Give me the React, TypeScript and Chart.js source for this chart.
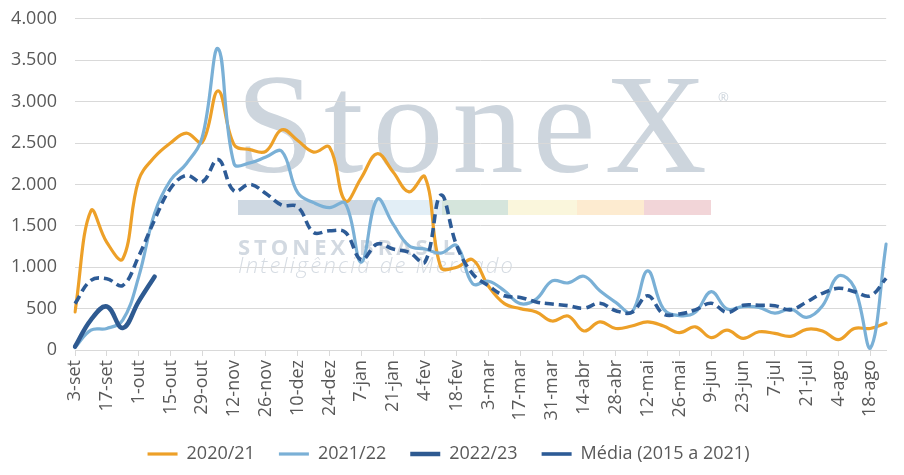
import { useEffect, useRef } from "react";
import { Chart, registerables } from "chart.js";

Chart.register(...registerables);

const weeks = [
  "3-set", "10-set", "17-set", "24-set",
  "1-out", "8-out", "15-out", "22-out", "29-out",
  "5-nov", "12-nov", "19-nov", "26-nov",
  "3-dez", "10-dez", "17-dez", "24-dez", "31-dez",
  "7-jan", "14-jan", "21-jan", "28-jan",
  "4-fev", "11-fev", "18-fev", "25-fev",
  "3-mar", "10-mar", "17-mar", "24-mar", "31-mar",
  "7-abr", "14-abr", "21-abr", "28-abr",
  "5-mai", "12-mai", "19-mai", "26-mai",
  "2-jun", "9-jun", "16-jun", "23-jun", "30-jun",
  "7-jul", "14-jul", "21-jul", "28-jul",
  "4-ago", "11-ago", "18-ago", "25-ago",
];

const s2020_21 = [
  460, 1680, 1300, 1100, 2050, 2330, 2500, 2620, 2510, 3130,
  2480, 2420, 2400, 2660, 2530, 2390, 2450, 1800, 2080, 2370,
  2150, 1910, 2090, 1000, 1000, 1090, 770, 560, 500, 460,
  350, 410, 230, 340, 260, 290, 340, 290, 210, 280,
  150, 240, 140, 220, 200, 165, 250, 230, 125, 260,
  260, 325,
];

const s2021_22 = [
  30, 240, 260, 360, 880, 1650, 2050, 2250, 2570, 3640,
  2250, 2260, 2330, 2400, 1900, 1780, 1720, 1770, 1060, 1820,
  1520, 1260, 1220, 1170, 1260, 800, 830, 715, 560, 615,
  835, 810, 890, 715, 575, 455, 955, 495, 415, 455,
  705, 495, 525, 515, 445, 495, 395, 535, 895, 755,
  20, 1280,
];

const s2022_23 = [40, 365, 525, 265, 585, 885];

const media2015_2021 = [
  560, 840, 860, 780, 1130, 1570, 1950, 2110, 2030, 2300,
  1920, 2000, 1890, 1750, 1730, 1420, 1440, 1420, 1090, 1280,
  1220, 1180, 1060, 1870, 1260, 920, 775, 655, 635, 580,
  555, 535, 505, 565, 475, 455, 655, 435, 435, 485,
  565, 455, 540, 540, 535, 485, 580, 685, 745, 705,
  655, 865,
];

const seriesNames = ["2020/21", "2021/22", "2022/23", "Média (2015 a 2021)"];

const FONT = "'Open Sans', 'Noto Sans', sans-serif";
const TEXT = "#595959";
const GRID = "#d9d9d9";

function fmt(v: number) {
  const s = Math.round(v).toString();
  return s.replace(/\B(?=(\d{3})+(?!\d))/g, ".");
}

const watermark = {
  id: "watermark",
  beforeDraw(chart: any) {
    const ctx = chart.ctx as CanvasRenderingContext2D;
    ctx.save();
    const bandY = 192;
    const bandH = 15;
    const segs: [number, number, string][] = [
      [230, 365, "#ced8e2"],
      [365, 434, "#e2eef6"],
      [434, 500, "#d5e5dc"],
      [500, 569, "#faf6dc"],
      [569, 636, "#fdebd0"],
      [636, 703, "#f2d5d8"],
    ];
    segs.forEach(([a, b, c]) => {
      ctx.fillStyle = c;
      ctx.fillRect(a, bandY, b - a, bandH);
    });
    ctx.fillStyle = "#cdd5dd";
    ctx.textBaseline = "alphabetic";
    ctx.textAlign = "left";
    ctx.font = "142px 'Liberation Serif', serif";
    (ctx as any).letterSpacing = "9px";
    ctx.fillText("StoneX", 228, 164);
    (ctx as any).letterSpacing = "0px";
    ctx.font = "13px " + FONT;
    ctx.fillText("®", 710, 94);
    ctx.fillStyle = "#d2d9e1";
    ctx.font = "bold 22px " + FONT;
    (ctx as any).letterSpacing = "4px";
    ctx.fillText("STONEX BRASIL", 230, 247);
    ctx.fillStyle = "#d6dce3";
    ctx.font = "italic 300 22px " + FONT;
    (ctx as any).letterSpacing = "2.2px";
    ctx.fillText("Inteligência de Mercado", 230, 265);
    ctx.restore();
  },
};

export default function App() {
  const ref = useRef<HTMLCanvasElement | null>(null);

  useEffect(() => {
    if (!ref.current) return;
    const chart = new Chart(ref.current, {
      type: "line",
      data: {
        labels: weeks,
        datasets: [
          {
            label: seriesNames[0],
            data: s2020_21,
            borderColor: "#eda028",
            backgroundColor: "#eda028",
            borderWidth: 3.2,
            borderCapStyle: "round",
            order: 4,
          },
          {
            label: seriesNames[1],
            data: s2021_22,
            borderColor: "#7ab0d6",
            backgroundColor: "#7ab0d6",
            borderWidth: 3.2,
            borderCapStyle: "round",
            order: 3,
          },
          {
            label: seriesNames[2],
            data: s2022_23,
            borderColor: "#2e5a91",
            backgroundColor: "#2e5a91",
            borderWidth: 4.5,
            borderCapStyle: "round",
            order: 2,
          },
          {
            label: seriesNames[3],
            data: media2015_2021,
            borderColor: "#2d5b96",
            backgroundColor: "#2d5b96",
            borderWidth: 3.6,
            borderDash: [9, 5],
            borderCapStyle: "butt",
            order: 1,
          },
        ],
      },
      options: {
        responsive: false,
        animation: false,
        layout: { padding: { left: 0, right: 7, top: 0, bottom: -6 } },
        elements: {
          point: { radius: 0, hoverRadius: 0 },
          line: { tension: 0.4, fill: false },
        },
        plugins: {
          tooltip: { enabled: false },
          legend: {
            position: "bottom",
            labels: {
              usePointStyle: true,
              pointStyleWidth: 30,
              padding: 24,
              color: TEXT,
              font: { family: FONT, size: 18 },
              sort: (a: any, b: any) => a.datasetIndex - b.datasetIndex,
              generateLabels: (c: any) => {
                const items = Chart.defaults.plugins.legend.labels.generateLabels(c);
                items.forEach((it: any) => {
                  it.pointStyle = "line";
                });
                return items;
              },
            },
          },
        },
        scales: {
          x: {
            type: "category",
            offset: false,
            grid: {
              drawOnChartArea: false,
              drawTicks: true,
              tickLength: 6,
              color: GRID,
            },
            border: { display: true, color: GRID, width: 1 },
            ticks: {
              autoSkip: false,
              minRotation: 90,
              maxRotation: 90,
              padding: 4,
              color: TEXT,
              font: { family: FONT, size: 18 },
              callback: (_v: any, i: number) => (i % 2 === 0 ? weeks[i] : null),
            },
            afterFit: (s: any) => {
              s.height = 71;
            },
          },
          y: {
            min: 0,
            max: 4000,
            grid: {
              color: GRID,
              drawTicks: true,
              tickLength: 18,
              tickColor: "rgba(0,0,0,0)",
              lineWidth: 1,
            },
            border: { display: false },
            ticks: {
              stepSize: 500,
              padding: 0,
              color: TEXT,
              font: { family: FONT, size: 18 },
              callback: (v: any) => fmt(Number(v)),
            },
            afterFit: (s: any) => {
              s.width = 67;
            },
          },
        },
      },
      plugins: [watermark],
    });
    return () => chart.destroy();
  }, []);

  return (
    <div style={{ width: 888, height: 459 }}>
      <canvas ref={ref} width={888} height={459} />
    </div>
  );
}
